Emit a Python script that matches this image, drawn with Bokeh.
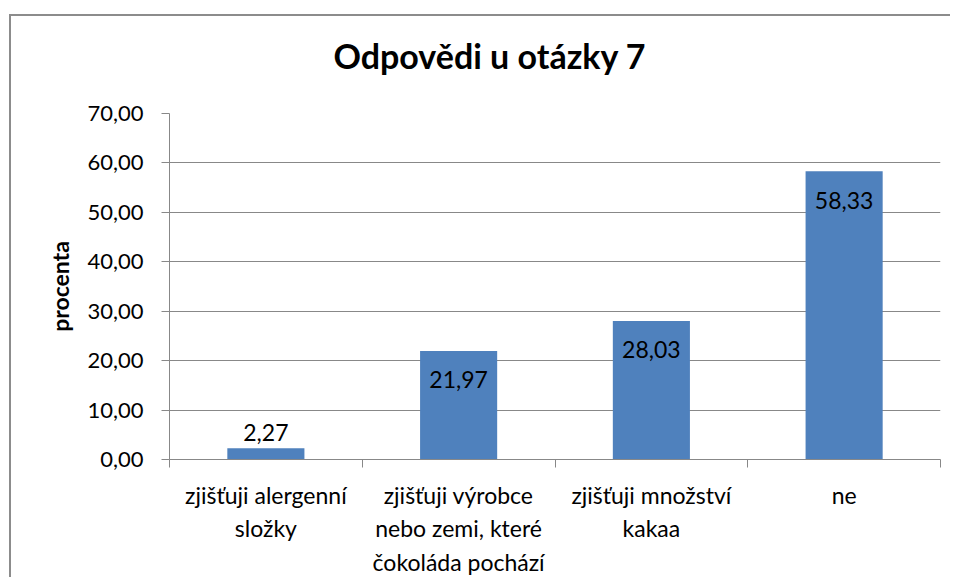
import numpy as np
from bokeh.plotting import figure
from bokeh.models import ColumnDataSource, FixedTicker, Range1d, Title
from bokeh.core.properties import value
from bokeh.embed import file_html
from bokeh.resources import INLINE

# ---- data ----
categories = [
    "zjišťuji alergenní\nsložky",
    "zjišťuji výrobce\nnebo zemi, které\nčokoláda pochází",
    "zjišťuji množství\nkakaa",
    "ne",
]
values = [2.27, 21.97, 28.03, 58.33]
y_ticks = [0, 10, 20, 30, 40, 50, 60, 70]
title_text = "Odpovědi u otázky 7"
y_label = "procenta"


def cz(v):
    return f"{v:.2f}".replace(".", ",")


n = len(categories)
centers = [i + 0.5 for i in range(n)]
bounds = list(range(n + 1))

GRAY = "#888888"
BAR = "#4F81BD"
FONT = "Lato"

src = ColumnDataSource(dict(
    x=centers,
    top=values,
    label=[cz(v) for v in values],
    off=[29 if v > 8 else -16 for v in values],
))

# outer chart box: grey top/left edge drawn as an outside shadow
OX, OY = 11, 16

p = figure(
    x_range=Range1d(0, n), y_range=Range1d(y_ticks[0], y_ticks[-1]),
    frame_width=771, frame_height=346,
    min_border_left=169 - OX, min_border_right=12, min_border_top=113 - OY, min_border_bottom=117,
    output_backend="svg", toolbar_location=None, tools="",
    title=None,
)
p.styles = {
    "margin-left": f"{OX}px",
    "margin-top": f"{OY}px",
    "box-shadow": "-2px -2px 0px 0px #8c8c8c",
}
p.outline_line_color = None
p.background_fill_color = "white"
p.border_fill_color = "white"

# spacer between plot area and title (closest to frame), then the title
p.add_layout(Title(text=" ", text_font_size="2px", standoff=34), "above")
p.add_layout(Title(text=title_text, align="left", offset=164, standoff=0,
                   text_font=FONT, text_font_style="bold", text_font_size="34px",
                   text_color="black"), "above")

p.vbar(x="x", top="top", width=0.4, bottom=0, source=src, fill_color=BAR, line_color=None)
p.text(x="x", y="top", text="label", y_offset="off", source=src,
       text_align="center", text_baseline="middle",
       text_font=value(FONT), text_font_size="23px", text_color="black")

# grid
p.xgrid.visible = False
p.ygrid.ticker = FixedTicker(ticks=y_ticks)
p.ygrid.grid_line_color = GRAY
p.ygrid.grid_line_width = 1

# y axis
ya = p.yaxis[0]
ya.ticker = FixedTicker(ticks=y_ticks)
ya.major_label_overrides = {t: cz(t) for t in y_ticks}
ya.axis_line_color = GRAY
ya.major_tick_line_color = GRAY
ya.major_tick_out = 8
ya.major_tick_in = 0
ya.minor_tick_out = 0
ya.minor_tick_in = 0
ya.major_label_standoff = 18
ya.major_label_text_font = FONT
ya.major_label_text_font_size = "22px"
ya.major_label_text_color = "black"
ya.axis_label = y_label
ya.axis_label_text_font = FONT
ya.axis_label_text_font_style = "bold"
ya.axis_label_text_font_size = "23px"
ya.axis_label_text_color = "black"
ya.axis_label_standoff = 10

# x axis
xa = p.xaxis[0]
xa.ticker = FixedTicker(ticks=centers, minor_ticks=bounds)
xa.major_label_overrides = {c: lab for c, lab in zip(centers, categories)}
xa.axis_line_color = GRAY
xa.major_tick_out = 0
xa.major_tick_in = 0
xa.minor_tick_line_color = GRAY
xa.minor_tick_out = 8
xa.minor_tick_in = 0
xa.major_label_standoff = 13
xa.major_label_text_font = FONT
xa.major_label_text_font_size = "23px"
xa.major_label_text_line_height = 1.21
xa.major_label_text_color = "black"

open("out.html", "w").write(file_html(p, INLINE))
